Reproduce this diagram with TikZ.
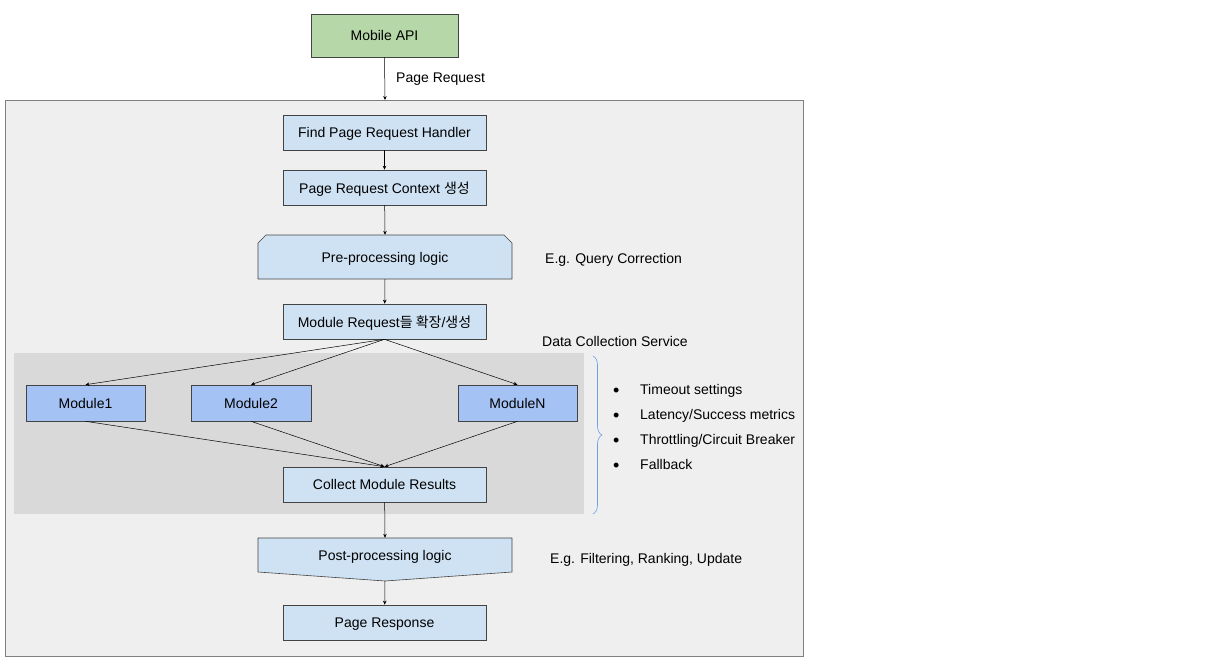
\documentclass[tikz,border=0pt]{standalone}
\usepackage{fontspec}
\setmainfont{Liberation Sans}
\newfontfamily\kr{Noto Sans CJK KR}
\usetikzlibrary{arrows.meta,decorations.pathreplacing}
\definecolor{outerfill}{HTML}{EFEFEF}
\definecolor{grayfill}{HTML}{D9D9D9}
\definecolor{boxfill}{HTML}{CFE2F3}
\definecolor{modfill}{HTML}{A4C2F4}
\definecolor{greenfill}{HTML}{B6D7A8}
\definecolor{bracecol}{HTML}{6D9EEB}
\definecolor{edge}{HTML}{434343}
\begin{document}
\begin{tikzpicture}[x=1pt,y=-1pt,
  every node/.style={font=\fontsize{14}{16}\selectfont,text depth=0pt},
  procbox/.style={draw=edge,fill=boxfill,line width=0.6pt},
  modbox/.style={draw=edge,fill=modfill,line width=0.6pt},
  conn/.style={draw=black,line width=0.5pt,-{Stealth[length=4pt,width=3.5pt]}},
  lbl/.style={anchor=west,inner sep=0pt}]
\useasboundingbox (0,0) rectangle (1232,659);
% outer container
\draw[fill=outerfill,draw=gray,line width=0.7pt] (5,100) rectangle (803,656);
\fill[grayfill] (14,353) rectangle (584,514);
% Mobile API
\node[draw=edge,fill=greenfill,line width=0.6pt,minimum width=147pt,minimum height=43pt,inner sep=0pt] (api) at (384.5,35.5) {Mobile API};
\coordinate (top) at (385,100);
\node[lbl] (preq) at (396,78) {Page Request};
% main boxes
\node[procbox,minimum width=203pt,minimum height=35pt,inner sep=0pt] (find) at (384.5,132.5) {Find Page Request Handler};
\node[procbox,minimum width=203pt,minimum height=35pt,inner sep=0pt] (ctx) at (384.5,187.5) {Page Request Context {\kr 생성}};
% pre-processing (chamfered top corners)
\draw[procbox] (258,279) -- (258,243) -- (266,235) -- (504,235) -- (512,243) -- (512,279) -- cycle;
\node[inner sep=0pt,minimum width=254pt,minimum height=44pt] (pre) at (385,257) {Pre-processing logic};
\node[lbl] (eg1) at (545,258) {E.g. Query Correction};
\node[procbox,minimum width=203pt,minimum height=35pt,inner sep=0pt] (modreq) at (384.5,321.5) {Module Request{\kr 들 확장}/{\kr 생성}};
\node[lbl] (dcs) at (542,341) {Data Collection Service};
% modules
\node[modbox,minimum width=119pt,minimum height=36pt,inner sep=0pt] (m1) at (85.5,403) {Module1};
\node[modbox,minimum width=120pt,minimum height=36pt,inner sep=0pt] (m2) at (251,403) {Module2};
\node[modbox,minimum width=119pt,minimum height=36pt,inner sep=0pt] (mn) at (517.5,403) {ModuleN};
\node[procbox,minimum width=203pt,minimum height=35pt,inner sep=0pt] (collect) at (384.5,484.5) {Collect Module Results};
% post-processing (pointed bottom)
\draw[procbox] (258,538) -- (512,538) -- (512,572) -- (385,581) -- (258,572) -- cycle;
\node[inner sep=0pt,minimum width=254pt,minimum height=34pt] (post) at (385,555) {Post-processing logic};
\coordinate (postbot) at (385,581);
\node[lbl] (eg2) at (550,558) {E.g. Filtering, Ranking, Update};
\node[procbox,minimum width=203pt,minimum height=35pt,inner sep=0pt] (resp) at (384.5,622.5) {Page Response};
% brace
\draw[bracecol,line width=0.6pt,decorate,decoration={brace,amplitude=9pt}] (593,356) -- (593,514);
% bullets
\foreach \y/\t [count=\i] in {389/{Timeout settings},414/{Latency/Success metrics},439/{Throttling/Circuit Breaker},464/{Fallback}}{
  \node[lbl] (b\i) at (613,\y+3) {\fontsize{18}{18}\selectfont\textbullet};
  \node[lbl] (t\i) at (640,\y) {\t};
}
% connectors
\draw[conn] (api.south) -- (top);
\draw[conn] (find) -- (ctx);
\draw[conn] (ctx) -- (pre.north);
\draw[conn] (pre.south) -- (modreq);
\draw[conn] (modreq.south) -- (m1.north);
\draw[conn] (modreq.south) -- (m2.north);
\draw[conn] (modreq.south) -- (mn.north);
\draw[conn] (m1.south) -- (collect.north);
\draw[conn] (m2.south) -- (collect.north);
\draw[conn] (mn.south) -- (collect.north);
\draw[conn] (collect) -- (post.north);
\draw[conn] (postbot) -- (resp);
\end{tikzpicture}
\end{document}
